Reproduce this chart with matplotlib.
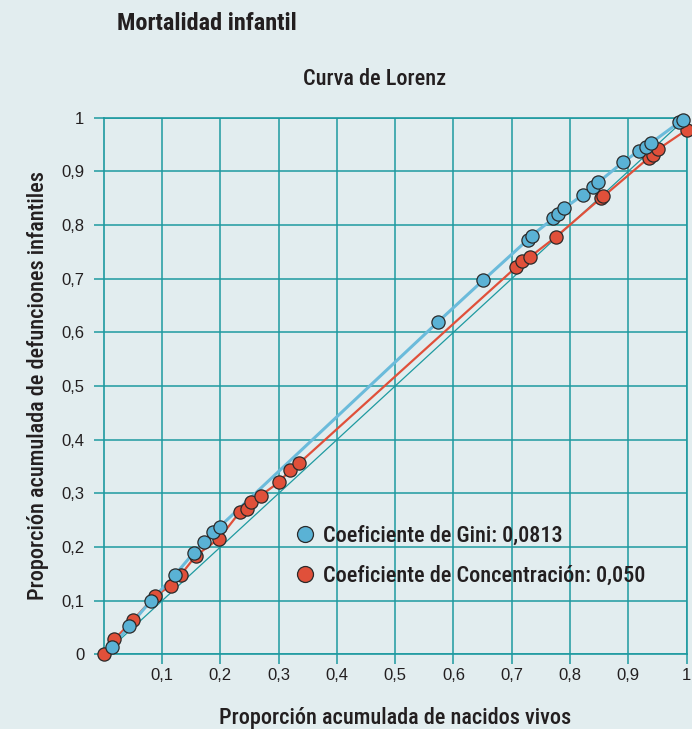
import matplotlib
matplotlib.use("Agg")
import matplotlib.pyplot as plt
from matplotlib.lines import Line2D

# cumulative share of live births (x) vs infant deaths (y)
gini_x = [0.014, 0.044, 0.081, 0.122, 0.154, 0.172, 0.188, 0.199, 0.574, 0.651,
          0.727, 0.734, 0.771, 0.779, 0.790, 0.822, 0.839, 0.848, 0.891, 0.918,
          0.931, 0.938, 0.987, 0.994]
gini_y = [0.014, 0.053, 0.100, 0.148, 0.189, 0.210, 0.229, 0.238, 0.620, 0.697,
          0.772, 0.780, 0.812, 0.820, 0.831, 0.856, 0.871, 0.879, 0.917, 0.938,
          0.946, 0.952, 0.991, 0.996]

conc_x = [0.000, 0.018, 0.051, 0.088, 0.115, 0.132, 0.158, 0.198, 0.234, 0.245,
          0.253, 0.269, 0.301, 0.320, 0.335, 0.708, 0.718, 0.732, 0.776, 0.853,
          0.857, 0.935, 0.943, 0.951, 1.000]
conc_y = [0.000, 0.028, 0.065, 0.109, 0.128, 0.148, 0.184, 0.216, 0.266, 0.271,
          0.284, 0.296, 0.321, 0.344, 0.356, 0.722, 0.733, 0.741, 0.778, 0.850,
          0.853, 0.925, 0.931, 0.941, 0.977]

x_ticks = [0.1, 0.2, 0.3, 0.4, 0.5, 0.6, 0.7, 0.8, 0.9, 1.0]
x_labels = ["0,1", "0,2", "0,3", "0,4", "0,5", "0,6", "0,7", "0,8", "0,9", "1"]
y_ticks = [0, 0.1, 0.2, 0.3, 0.4, 0.5, 0.6, 0.7, 0.8, 0.9, 1.0]
y_labels = ["0", "0,1", "0,2", "0,3", "0,4", "0,5", "0,6", "0,7", "0,8", "0,9", "1"]

gini_label = "Coeficiente de Gini: 0,0813"
conc_label = "Coeficiente de Concentración: 0,050"

BG = "#e2edef"
TEAL = "#1e9aa0"
BLUE = "#5ab2d5"
RED = "#e0503a"
EDGE = "#2a2a2a"
TEXT = "#231f20"
NARROW = ["Roboto Condensed", "Archivo Narrow", "DejaVu Sans"]
REGULAR = ["Liberation Sans", "DejaVu Sans"]

fig = plt.figure(figsize=(6.92, 7.29), dpi=100, facecolor=BG)
ax = fig.add_axes([0.1499, 0.1022, 0.8424, 0.7366], facecolor=BG)

# equality line
ax.plot([0, 1], [0, 1], color=TEAL, lw=0.9, zorder=2)
ax.plot(conc_x, conc_y, color=RED, lw=1.6, zorder=3)
ax.plot(gini_x, gini_y, color="#6bbbdb", lw=2.2, zorder=3)
ax.plot(conc_x, conc_y, "o", ms=9.5, mfc=RED, mec=EDGE, mew=0.9,
        zorder=4, clip_on=False)
ax.plot(gini_x, gini_y, "o", ms=9.5, mfc=BLUE, mec=EDGE, mew=0.9,
        zorder=5, clip_on=False)

ax.set_xlim(0, 1)
ax.set_ylim(0, 1)
ax.set_xticks(x_ticks)
ax.set_xticklabels(x_labels, family=REGULAR, fontsize=12, color=TEXT)
ax.set_yticks(y_ticks)
ax.set_yticklabels(y_labels, family=REGULAR, fontsize=12, color=TEXT)
ax.tick_params(axis="both", length=7, width=1.1, color=TEAL)
ax.tick_params(axis="x", pad=3)
ax.tick_params(axis="y", pad=7)
ax.grid(True, color=TEAL, lw=1.1, zorder=1)
ax.set_axisbelow(True)
for side in ax.spines.values():
    side.set_color(TEAL)
    side.set_linewidth(1.2)

ax.set_xlabel("Proporción acumulada de nacidos vivos", family=NARROW,
              fontsize=16, color=TEXT, fontweight="medium", labelpad=17)
ax.set_ylabel("Proporción acumulada de defunciones infantiles", family=NARROW,
              fontsize=16, color=TEXT, fontweight="medium", labelpad=9)

handles = [
    Line2D([], [], ls="none", marker="o", ms=11.5, mfc=BLUE, mec=EDGE, mew=0.9),
    Line2D([], [], ls="none", marker="o", ms=11.5, mfc=RED, mec=EDGE, mew=0.9),
]
leg = ax.legend(handles, [gini_label, conc_label], loc="upper left",
                bbox_to_anchor=(0.313, 0.258), frameon=False, handlelength=0.9,
                handletextpad=0.35, labelspacing=0.8, borderaxespad=0,
                prop={"family": NARROW, "size": 16, "weight": "medium"})
for t in leg.get_texts():
    t.set_color(TEXT)

fig.text(117 / 692, 1 - 23 / 729, "Mortalidad infantil", family=NARROW,
         fontsize=17.5, fontweight="bold", color=TEXT, va="center", ha="left")
fig.text(375 / 692, 1 - 79 / 729, "Curva de Lorenz", family=NARROW,
         fontsize=16, color=TEXT, va="center", ha="center", fontweight="medium")

fig.savefig("out.png", dpi=100, facecolor=BG)
